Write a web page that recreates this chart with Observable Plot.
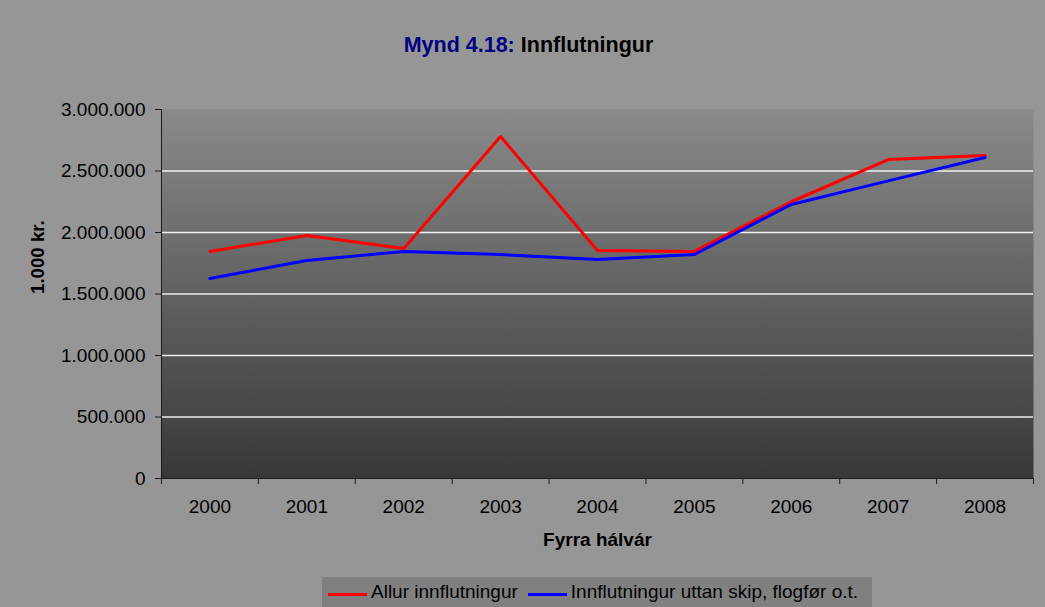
<!DOCTYPE html>
<html>
<head>
<meta charset="utf-8">
<script src="https://cdn.jsdelivr.net/npm/d3@7"></script>
<script src="https://cdn.jsdelivr.net/npm/@observablehq/plot@0.6"></script>
<style>
  html, body { margin: 0; padding: 0; }
  body { width: 1045px; height: 607px; background: #969696; position: relative; overflow: hidden;
         font-family: "Liberation Sans", Arial, sans-serif; }
  #title { position: absolute; left: 0; top: 33px; width: 1057px; text-align: center;
           font-size: 21.5px; font-weight: bold; line-height: 24px; color: #000; }
  #title .num { color: #000080; }
  #chart { position: absolute; left: 0; top: 90px; }
  #legend { position: absolute; left: 322px; top: 577px; width: 550px; height: 30px;
            background: #808080; box-sizing: border-box; padding: 4px 0 0 6px;
            display: flex; align-items: flex-start; }
  #legend .item { display: flex; align-items: center; font-size: 19px; line-height: 22px; color: #000; height: 22px; }
  #legend .sw { width: 39px; height: 3px; margin-right: 4px; position: relative; top: 2px; }
  #legend .item + .item { margin-left: 10px; }
</style>
</head>
<body>
<div id="title"><span class="num">Mynd 4.18:</span> Innflutningur</div>
<div id="chart"></div>
<div id="legend"></div>
<script>
// ---- data ----
const years = [2000, 2001, 2002, 2003, 2004, 2005, 2006, 2007, 2008];
const allurInnflutningur = [1846000, 1976000, 1870000, 2780000, 1854000, 1846000, 2250000, 2593000, 2626000];
const uttanSkip = [1626000, 1772000, 1846000, 1821000, 1780000, 1821000, 2228000, 2420000, 2610000];
const seriesNames = ["Allur innflutningur", "Innflutningur uttan skip, flogfør o.t."];
const seriesColors = ["#ff0000", "#0000ff"];
const yTicks = [0, 500000, 1000000, 1500000, 2000000, 2500000, 3000000];
const gridValues = [500000, 1000000, 1500000, 2000000, 2500000];
const yLabel = "1.000 kr.";
const xLabel = "Fyrra hálvár";

// ---- derived ----
const rowsA = years.map((y, i) => ({year: y, value: allurInnflutningur[i]}));
const rowsB = years.map((y, i) => ({year: y, value: uttanSkip[i]}));
const boundaries = [years[0] - 0.5, ...years.map(y => y + 0.5)];
const fmt = d3.formatLocale({decimal: ",", thousands: ".", grouping: [3], currency: ["", ""]}).format(",d");

const W = 1045, H = 480;
const chart = Plot.plot({
  width: W,
  height: H,
  marginLeft: 161,
  marginRight: 12,
  marginTop: 19,
  marginBottom: 92,
  style: {fontFamily: "Liberation Sans, Arial, sans-serif", fontSize: "19px", color: "#000", background: "transparent", overflow: "visible"},
  x: {type: "linear", domain: [boundaries[0], boundaries[boundaries.length - 1]]},
  y: {domain: [0, 3000000]},
  marks: [
    Plot.frame({fill: "url(#plotbg)", stroke: "none"}),
    Plot.ruleY(gridValues, {stroke: "#ffffff", strokeWidth: 1.3, strokeOpacity: 0.9}),
    Plot.line(rowsA, {x: "year", y: "value", stroke: seriesColors[0], strokeWidth: 3}),
    Plot.line(rowsB, {x: "year", y: "value", stroke: seriesColors[1], strokeWidth: 3}),
    Plot.ruleY([0], {stroke: "#1a1a1a", strokeWidth: 1}),
    Plot.ruleX([boundaries[0]], {stroke: "#1a1a1a", strokeWidth: 1}),
    Plot.axisY(yTicks, {tickSize: 6, tickPadding: 10, tickFormat: fmt, label: null, stroke: "#1a1a1a", fill: "#000"}),
    Plot.axisX(boundaries, {tickSize: 6, tickFormat: () => "", label: null, stroke: "#1a1a1a"}),
    Plot.axisX(years, {tickSize: 0, tickPadding: 21, tickFormat: d => String(d), label: null, fill: "#000"}),
    Plot.text([yLabel], {frameAnchor: "left", dx: -123, rotate: -90, text: d => d, fontWeight: "bold", fontSize: 18.7, fill: "#000"}),
    Plot.text([xLabel], {frameAnchor: "bottom", dy: 67, text: d => d, fontWeight: "bold", fontSize: 19, fill: "#000"})
  ]
});

// gradient background for the plot area
const svg = d3.select(chart.tagName.toLowerCase() === "svg" ? chart : chart.querySelector("svg"));
const defs = svg.insert("defs", ":first-child");
const grad = defs.append("linearGradient").attr("id", "plotbg").attr("x1", 0).attr("y1", 0).attr("x2", 0).attr("y2", 1);
grad.append("stop").attr("offset", "0%").attr("stop-color", "#8a8a8a");
grad.append("stop").attr("offset", "100%").attr("stop-color", "#383838");

document.getElementById("chart").appendChild(chart);

// legend
const legend = document.getElementById("legend");
seriesNames.forEach((name, i) => {
  const item = document.createElement("div");
  item.className = "item";
  const sw = document.createElement("span");
  sw.className = "sw";
  sw.style.background = seriesColors[i];
  const t = document.createElement("span");
  t.textContent = name;
  item.appendChild(sw);
  item.appendChild(t);
  legend.appendChild(item);
});
</script>
</body>
</html>
